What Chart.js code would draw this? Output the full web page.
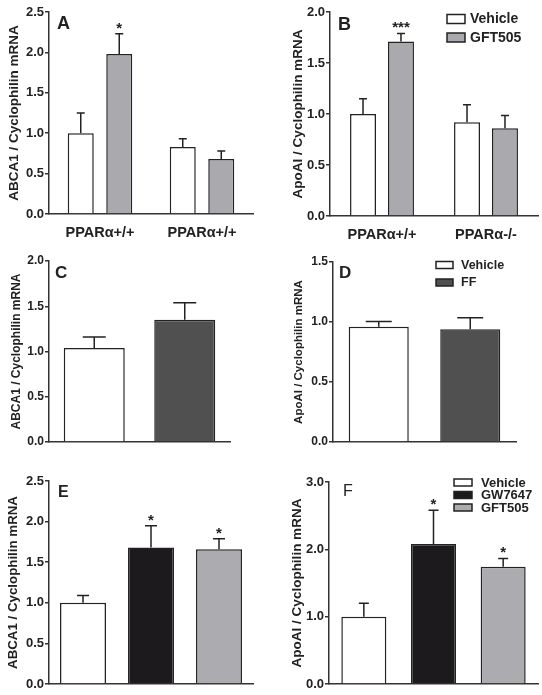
<!DOCTYPE html>
<html>
<head>
<meta charset="utf-8">
<script src="https://cdn.jsdelivr.net/npm/chart.js@4.4.0/dist/chart.umd.min.js"></script>
<style>
  body { margin: 0; background: #fff; }
  #fig { position: relative; width: 542px; height: 695px; }
  #fig canvas { position: absolute; }
</style>
</head>
<body>
<div id="fig">
  <canvas id="panelA" width="271" height="240" style="left:0;top:0"></canvas>
  <canvas id="panelB" width="271" height="240" style="left:271px;top:0"></canvas>
  <canvas id="panelC" width="271" height="220" style="left:0;top:240px"></canvas>
  <canvas id="panelD" width="271" height="220" style="left:271px;top:240px"></canvas>
  <canvas id="panelE" width="271" height="235" style="left:0;top:460px"></canvas>
  <canvas id="panelF" width="271" height="235" style="left:271px;top:460px"></canvas>
</div>
<script>
// --- data ---
const abcaGenotypes = ['PPARα+/+', 'PPARα+/+'];
const apoGenotypes = ['PPARα+/+', 'PPARα-/-'];
const gftTreatments = ['Vehicle', 'GFT505'];

const aVehicle = [1.00, 0.83];
const aVehicleSem = [0.25, 0.10];
const aGft = [1.98, 0.68];
const aGftSem = [0.25, 0.10];
const aGftStars = ['*', ''];

const bVehicle = [1.00, 0.92];
const bVehicleSem = [0.15, 0.17];
const bGft = [1.71, 0.86];
const bGftSem = [0.08, 0.125];
const bGftStars = ['***', ''];

const ffGroups = ['Vehicle', 'FF'];
const cValues = [1.04, 1.35];
const cSem = [0.12, 0.19];
const dValues = [0.96, 0.94];
const dSem = [0.045, 0.095];

const agonistGroups = ['Vehicle', 'GW7647', 'GFT505'];
const eValues = [1.00, 1.68, 1.66];
const eSem = [0.09, 0.27, 0.13];
const eStars = ['', '*', '*'];
const fValues = [1.00, 2.08, 1.74];
const fSem = [0.20, 0.50, 0.125];
const fStars = ['', '*', '*'];

// --- styling ---
const FONT = "'Liberation Sans', Arial, sans-serif";
const INK = '#222';
const AXIS = '#333';
const WHITE = '#ffffff';
const GREY = '#aaaaae';
const DARK = '#505050';
const BLACK = '#1c1a1c';
const LIGHT = '#acacb0';

// upward SEM bars + significance stars
const errorBars = {
  id: 'errorBars',
  afterDatasetsDraw(chart, args, opts) {
    const ctx = chart.ctx;
    const y = chart.scales.y;
    chart.data.datasets.forEach((ds, i) => {
      chart.getDatasetMeta(i).data.forEach((bar, j) => {
        const top = y.getPixelForValue(ds.data[j] + ds.sem[j]);
        ctx.save();
        ctx.strokeStyle = INK;
        ctx.lineWidth = 1.5;
        ctx.beginPath();
        ctx.moveTo(bar.x, bar.y);
        ctx.lineTo(bar.x, top);
        ctx.moveTo(bar.x - opts.cap / 2, top);
        ctx.lineTo(bar.x + opts.cap / 2, top);
        ctx.stroke();
        if (ds.stars && ds.stars[j]) {
          ctx.fillStyle = INK;
          ctx.font = 'bold 15px ' + FONT;
          ctx.textAlign = 'center';
          ctx.textBaseline = 'alphabetic';
          ctx.fillText(ds.stars[j], bar.x, top - 1);
        }
        ctx.restore();
      });
    });
  }
};

// panel letter + boxed legend
const panelDecor = {
  id: 'panelDecor',
  afterDraw(chart, args, opts) {
    const ctx = chart.ctx;
    ctx.save();
    ctx.fillStyle = INK;
    ctx.font = opts.letterFont + ' ' + FONT;
    ctx.textAlign = 'left';
    ctx.textBaseline = 'alphabetic';
    ctx.fillText(opts.letter, opts.letterX, opts.letterY);
    const L = opts.legend;
    if (L) {
      L.labels.forEach((label, k) => {
        const cy = L.y + k * L.gap;
        ctx.fillStyle = L.colors[k];
        ctx.fillRect(L.x, cy - L.boxH / 2, L.boxW, L.boxH);
        ctx.strokeStyle = INK;
        ctx.lineWidth = 1.5;
        ctx.strokeRect(L.x, cy - L.boxH / 2, L.boxW, L.boxH);
        ctx.fillStyle = INK;
        ctx.font = L.font + ' ' + FONT;
        ctx.textBaseline = 'middle';
        ctx.fillText(label, L.x + L.textOffset, cy + 0.5);
      });
    }
    ctx.restore();
  }
};

function makePanel(id, o) {
  const canvas = document.getElementById(id);
  const W = canvas.width, H = canvas.height;
  const titleLh = o.titleSize * 1.2;
  return new Chart(canvas, {
    type: 'bar',
    data: { labels: o.labels, datasets: o.datasets },
    options: {
      responsive: false,
      animation: false,
      layout: { padding: { left: 0, top: o.plot.top, right: W - o.plot.right, bottom: 0 } },
      datasets: {
        bar: {
          borderColor: INK,
          borderWidth: 1.5,
          categoryPercentage: o.catPct,
          barPercentage: o.barPct
        }
      },
      plugins: {
        legend: { display: false },
        tooltip: { enabled: false },
        errorBars: { cap: o.cap },
        panelDecor: o.decor
      },
      scales: {
        x: {
          grid: { display: false },
          border: { color: AXIS, width: 1.5 },
          ticks: {
            display: !!o.showX,
            color: INK,
            padding: 2,
            font: { family: FONT, size: 14.5, weight: 'bold' }
          },
          afterFit: s => { s.height = H - o.plot.bottom; }
        },
        y: {
          min: 0,
          max: o.max,
          ticks: {
            stepSize: o.step,
            color: INK,
            padding: 1,
            font: { family: FONT, size: o.tickSize, weight: 'bold' },
            callback: v => v.toFixed(1)
          },
          grid: { drawOnChartArea: false, tickLength: 4, color: AXIS, lineWidth: 1.5 },
          border: { color: AXIS, width: 1.5 },
          title: {
            display: true,
            text: o.title,
            color: INK,
            font: { family: FONT, size: o.titleSize, weight: 'bold' },
            padding: { top: o.titleX - titleLh / 2, bottom: 0 }
          },
          afterFit: s => { s.width = o.plot.left; }
        }
      }
    },
    plugins: [errorBars, panelDecor]
  });
}

makePanel('panelA', {
  labels: abcaGenotypes,
  datasets: [
    { label: gftTreatments[0], data: aVehicle, sem: aVehicleSem, backgroundColor: WHITE },
    { label: gftTreatments[1], data: aGft, sem: aGftSem, stars: aGftStars, backgroundColor: GREY }
  ],
  plot: { left: 49, top: 12, right: 253, bottom: 214 },
  max: 2.5, step: 0.5, showX: true, tickSize: 13,
  catPct: 0.755, barPct: 0.675, cap: 8,
  title: 'ABCA1 / Cyclophilin mRNA', titleSize: 13.5, titleX: 14,
  decor: { letter: 'A', letterFont: 'bold 18px', letterX: 57, letterY: 29 }
});

makePanel('panelB', {
  labels: apoGenotypes,
  datasets: [
    { label: gftTreatments[0], data: bVehicle, sem: bVehicleSem, backgroundColor: WHITE },
    { label: gftTreatments[1], data: bGft, sem: bGftSem, stars: bGftStars, backgroundColor: GREY }
  ],
  plot: { left: 59, top: 12, right: 267, bottom: 216 },
  max: 2.0, step: 0.5, showX: true, tickSize: 13,
  catPct: 0.73, barPct: 0.684, cap: 8,
  title: 'ApoAI / Cyclophilin mRNA', titleSize: 13.5, titleX: 27,
  decor: {
    letter: 'B', letterFont: 'bold 18px', letterX: 67, letterY: 30,
    legend: { labels: gftTreatments, colors: [WHITE, GREY], x: 176, y: 19, gap: 18.5,
              boxW: 18, boxH: 9, textOffset: 23, font: 'bold 14px' }
  }
});

makePanel('panelC', {
  labels: ffGroups,
  datasets: [{ label: 'ABCA1', data: cValues, sem: cSem, backgroundColor: [WHITE, DARK] }],
  plot: { left: 49, top: 21, right: 230, bottom: 202 },
  max: 2.0, step: 0.5, tickSize: 12,
  catPct: 1, barPct: 0.674, cap: 23,
  title: 'ABCA1 / Cyclophilin mRNA', titleSize: 12, titleX: 17,
  decor: { letter: 'C', letterFont: 'bold 17px', letterX: 55, letterY: 38 }
});

makePanel('panelD', {
  labels: ffGroups,
  datasets: [{ label: 'ApoAI', data: dValues, sem: dSem, backgroundColor: [WHITE, DARK] }],
  plot: { left: 62, top: 22, right: 245, bottom: 202 },
  max: 1.5, step: 0.5, tickSize: 12,
  catPct: 1, barPct: 0.656, cap: 26,
  title: 'ApoAI / Cyclophilin mRNA', titleSize: 11.5, titleX: 28,
  decor: {
    letter: 'D', letterFont: 'bold 17px', letterX: 68, letterY: 38,
    legend: { labels: ffGroups, colors: [WHITE, DARK], x: 165, y: 25, gap: 17.5,
              boxW: 17, boxH: 7, textOffset: 25, font: 'bold 12.5px' }
  }
});

makePanel('panelE', {
  labels: agonistGroups,
  datasets: [{ label: 'ABCA1', data: eValues, sem: eSem, stars: eStars, backgroundColor: [WHITE, BLACK, LIGHT] }],
  plot: { left: 49, top: 21, right: 253, bottom: 224 },
  max: 2.5, step: 0.5, tickSize: 13,
  catPct: 1, barPct: 0.676, cap: 12,
  title: 'ABCA1 / Cyclophilin mRNA', titleSize: 13.3, titleX: 13,
  decor: { letter: 'E', letterFont: 'bold 16px', letterX: 58, letterY: 37 }
});

makePanel('panelF', {
  labels: agonistGroups,
  datasets: [{ label: 'ApoAI', data: fValues, sem: fSem, stars: fStars, backgroundColor: [WHITE, BLACK, LIGHT] }],
  plot: { left: 58, top: 22, right: 267, bottom: 224 },
  max: 3.0, step: 1.0, tickSize: 13,
  catPct: 1, barPct: 0.646, cap: 10,
  title: 'ApoAI / Cyclophilin mRNA', titleSize: 13.5, titleX: 26,
  decor: {
    letter: 'F', letterFont: '16px', letterX: 72, letterY: 36,
    legend: { labels: agonistGroups, colors: [WHITE, BLACK, LIGHT], x: 183, y: 22.5, gap: 12.5,
              boxW: 18, boxH: 7, textOffset: 27, font: 'bold 13px' }
  }
});
</script>
</body>
</html>
